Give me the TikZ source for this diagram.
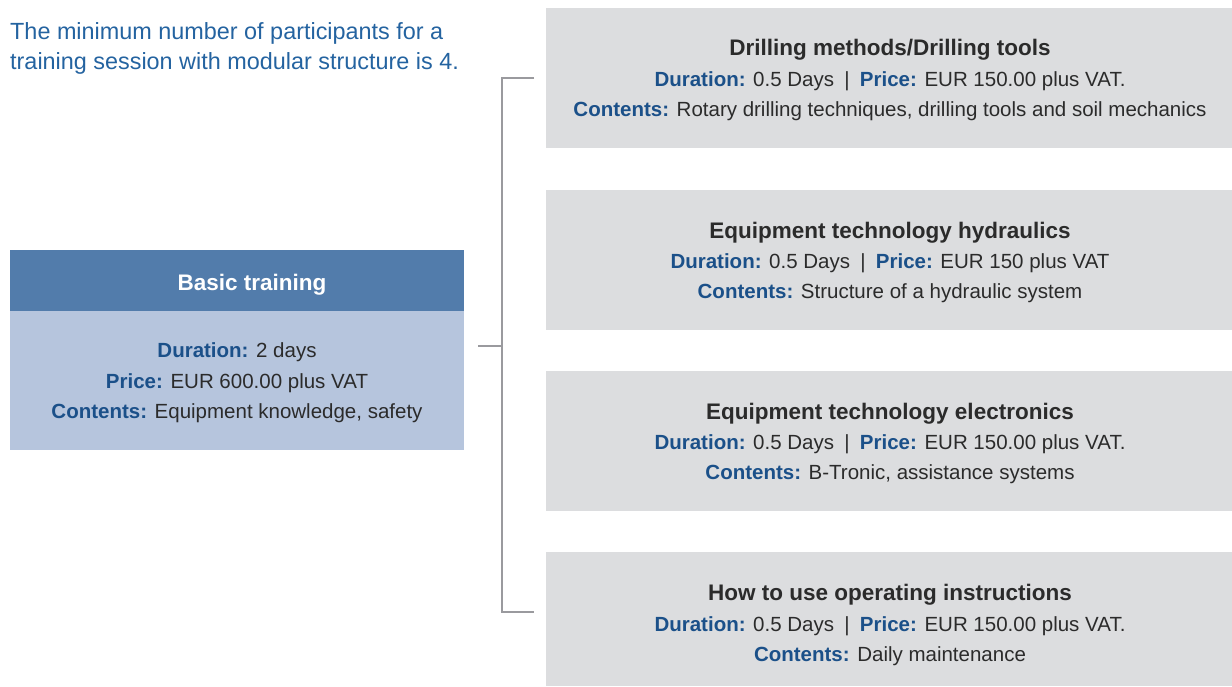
\documentclass[tikz,border=0pt]{standalone}
\usepackage{fontspec}
\setmainfont{Liberation Sans}
\definecolor{hdrblue}{HTML}{527CAB}
\definecolor{bodyblue}{HTML}{B6C5DD}
\definecolor{boxgrey}{HTML}{DCDDDF}
\definecolor{labblue}{HTML}{1B5089}
\definecolor{toptext}{HTML}{2463A0}
\definecolor{txt}{HTML}{2B2B2B}
\definecolor{linegrey}{HTML}{9A9A9E}
\newcommand{\lab}[1]{\textcolor{labblue}{\bfseries #1}}
\newcommand{\sepbar}{\enspace\textcolor{txt}{|}\enspace}
\tikzset{
  modbox/.style={fill=boxgrey, draw=none, rectangle, inner sep=0pt, minimum width=686pt, minimum height=140pt, anchor=north west},
  modtitle/.style={anchor=base, text=txt, font=\fontsize{22.5}{26}\selectfont\bfseries, inner sep=0pt},
  modline/.style={anchor=base, text=txt, font=\fontsize{20.5}{25}\selectfont, inner sep=0pt},
  basicline/.style={anchor=base, text=txt, font=\fontsize{20.5}{25}\selectfont, inner sep=0pt},
  bracket/.style={draw=linegrey, line width=2pt},
}
\begin{document}
\begin{tikzpicture}[x=1pt,y=-1pt]
\useasboundingbox (0,0) rectangle (1232,686);
% intro text
\node[anchor=base west, inner sep=0pt, text=toptext, font=\fontsize{23.4}{30}\selectfont] (intro1) at (10,39) {The minimum number of participants for a};
\node[anchor=base west, inner sep=0pt, text=toptext, font=\fontsize{23.4}{30}\selectfont] (intro2) at (10,69) {training session with modular structure is 4.};
% basic training box
\node[fill=hdrblue, rectangle, inner sep=0pt, minimum width=454pt, minimum height=61pt, anchor=north west] (bhead) at (10,250) {};
\node[fill=bodyblue, rectangle, inner sep=0pt, minimum width=454pt, minimum height=139pt, anchor=north west] (bbody) at (10,311) {};
\node[anchor=base, inner sep=0pt, text=white, font=\fontsize{22.5}{26}\selectfont\bfseries] (btitle) at (252,290) {Basic training};
\node[basicline] (bl1) at (237,357) {\lab{Duration:} 2 days};
\node[basicline] (bl2) at (237,388) {\lab{Price:} EUR 600.00 plus VAT};
\node[basicline] (bl3) at (237,418) {\lab{Contents:} Equipment knowledge, safety};
% module boxes
\node[modbox] (m1) at (546,8) {};
\node[modbox] (m2) at (546,190) {};
\node[modbox] (m3) at (546,371) {};
\node[modbox, minimum height=134pt] (m4) at (546,552) {};
% module 1
\node[modtitle] (t1) at (890,55) {Drilling methods/Drilling tools};
\node[modline] (d1) at (890,86) {\lab{Duration:} 0.5 Days\sepbar\lab{Price:} EUR 150.00 plus VAT.};
\node[modline] (c1) at (890,116) {\lab{Contents:} Rotary drilling techniques, drilling tools and soil mechanics};
% module 2
\node[modtitle] (t2) at (890,238) {Equipment technology hydraulics};
\node[modline] (d2) at (890,268) {\lab{Duration:} 0.5 Days\sepbar\lab{Price:} EUR 150 plus VAT};
\node[modline] (c2) at (890,298) {\lab{Contents:} Structure of a hydraulic system};
% module 3
\node[modtitle] (t3) at (890,419) {Equipment technology electronics};
\node[modline] (d3) at (890,449) {\lab{Duration:} 0.5 Days\sepbar\lab{Price:} EUR 150.00 plus VAT.};
\node[modline] (c3) at (890,479) {\lab{Contents:} B-Tronic, assistance systems};
% module 4
\node[modtitle] (t4) at (890,600) {How to use operating instructions};
\node[modline] (d4) at (890,631) {\lab{Duration:} 0.5 Days\sepbar\lab{Price:} EUR 150.00 plus VAT.};
\node[modline] (c4) at (890,661) {\lab{Contents:} Daily maintenance};
% bracket
\coordinate (jtop) at (502,78);
\coordinate (jbot) at (502,612);
\coordinate (jmid) at (502,346);
\coordinate (etop) at (534,78);
\coordinate (ebot) at (534,612);
\coordinate (smid) at (478,346);
\draw[bracket] (etop) -- (jtop) -- (jbot) -- (ebot);
\draw[bracket] (smid) -- (jmid);
\end{tikzpicture}
\end{document}
